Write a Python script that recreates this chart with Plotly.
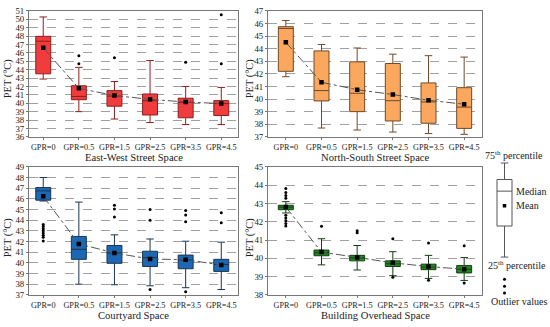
import plotly.graph_objects as go

categories = ["GPR=0", "GPR=0.5", "GPR=1.5", "GPR=2.5", "GPR=3.5", "GPR=4.5"]
xpos = [0, 1, 2, 3, 4, 5]

# East-West Street Space
ew_lower = [42.88, 39.0, 38.12, 37.7, 37.46, 37.46]
ew_q1 = [43.5, 40.42, 39.65, 38.6, 38.27, 38.54]
ew_median = [47.38, 40.81, 40.85, 40.3, 40.1, 39.96]
ew_q3 = [47.96, 42.08, 41.5, 41.1, 40.6, 40.31]
ew_upper = [50.27, 44.27, 42.58, 45.08, 42.0, 41.88]
ew_mean = [46.6, 41.77, 40.92, 40.46, 40.15, 39.96]
ew_out_x = [1, 1, 2, 4, 5, 5]
ew_out_y = [45.65, 44.69, 45.42, 44.88, 50.54, 44.69]

# North-South Street Space
ns_lower = [41.77, 37.7, 37.54, 37.38, 37.26, 37.2]
ns_q1 = [42.2, 39.85, 39.0, 38.26, 38.08, 37.67]
ns_median = [45.6, 40.67, 40.46, 39.87, 39.77, 39.36]
ns_q3 = [45.74, 43.82, 42.95, 42.82, 41.28, 40.9]
ns_upper = [46.23, 44.33, 44.05, 43.56, 43.44, 43.33]
ns_mean = [44.5, 41.33, 40.74, 40.36, 39.9, 39.59]

# Courtyard Space
cy_lower = [45.8, 38.0, 37.95, 37.85, 37.67, 37.5]
cy_q1 = [45.88, 40.33, 39.96, 39.66, 39.45, 39.2]
cy_median = [46.75, 41.27, 40.93, 40.5, 40.27, 39.85]
cy_q3 = [47.06, 42.48, 41.63, 41.09, 40.73, 40.33]
cy_upper = [48.0, 45.7, 42.63, 42.24, 42.03, 41.94]
cy_mean = [46.24, 41.78, 40.93, 40.36, 40.3, 39.8]
cy_out_x = [0, 0, 0, 0, 0, 0, 0, 0, 2, 2, 2, 3, 3, 3, 4, 4, 4, 4, 5, 5]
cy_out_y = [43.6, 43.4, 43.2, 43.0, 42.8, 42.6, 42.4, 42.05, 45.4, 45.05, 44.3,
            45.0, 44.0, 37.5, 44.9, 44.5, 43.85, 37.3, 44.7, 43.75]

# Building Overhead Space
bo_lower = [42.48, 39.64, 39.36, 39.05, 38.9, 38.79]
bo_q1 = [42.66, 40.14, 39.86, 39.55, 39.38, 39.2]
bo_median = [42.8, 40.3, 40.02, 39.7, 39.52, 39.4]
bo_q3 = [42.9, 40.45, 40.16, 39.86, 39.68, 39.6]
bo_upper = [43.1, 41.07, 40.7, 40.36, 40.16, 40.04]
bo_mean = [42.8, 40.34, 40.05, 39.75, 39.55, 39.4]
bo_out_x = [0, 0, 0, 0, 0, 0, 0, 0, 0, 1, 2, 2, 3, 3, 4, 4, 5, 5]
bo_out_y = [43.82, 43.6, 43.43, 43.29, 42.35, 42.21, 42.05, 41.9, 41.76,
            41.75, 41.5, 41.4, 41.07, 38.96, 40.84, 38.8, 40.68, 38.65]

panel_titles = ["East-West Street Space", "North-South Street Space",
                "Courtyard Space", "Building Overhead Space"]

FONT = "Liberation Serif"
W, H = 550, 327

def px_x(a, b):
    return [a / W, b / W]

def px_y(top, bottom):
    return [1 - bottom / H, 1 - top / H]

panels = [
    dict(lower=ew_lower, q1=ew_q1, med=ew_median, q3=ew_q3, upper=ew_upper, mean=ew_mean,
         ox=ew_out_x, oy=ew_out_y, fill="#F03C3C", line="#8E1E1E",
         xd=px_x(29, 238), yd=px_y(6, 136), xr=[-0.4, 5.47], yr=[36, 51]),
    dict(lower=ns_lower, q1=ns_q1, med=ns_median, q3=ns_q3, upper=ns_upper, mean=ns_mean,
         ox=[], oy=[], fill="#FBA75E", line="#6E4A2A",
         xd=px_x(268, 482), yd=px_y(6, 136), xr=[-0.5, 5.5], yr=[37, 47]),
    dict(lower=cy_lower, q1=cy_q1, med=cy_median, q3=cy_q3, upper=cy_upper, mean=cy_mean,
         ox=cy_out_x, oy=cy_out_y, fill="#1C68B4", line="#1A3550",
         xd=px_x(29, 238), yd=px_y(167, 299), xr=[-0.4, 5.47], yr=[37, 49]),
    dict(lower=bo_lower, q1=bo_q1, med=bo_median, q3=bo_q3, upper=bo_upper, mean=bo_mean,
         ox=bo_out_x, oy=bo_out_y, fill="#1F8A1F", line="#163D16",
         xd=px_x(268, 482), yd=px_y(167, 299), xr=[-0.5, 5.5], yr=[38, 45]),
]

fig = go.Figure()
layout = dict(
    width=W, height=H, margin=dict(l=0, r=0, t=0, b=0),
    paper_bgcolor="white", plot_bgcolor="white", showlegend=False,
    font=dict(family=FONT, color="#222222"),
)
annotations = []

for i, p in enumerate(panels):
    n = i + 1
    xa = "x" if n == 1 else f"x{n}"
    ya = "y" if n == 1 else f"y{n}"
    fig.add_trace(go.Box(
        x=xpos, q1=p["q1"], median=p["med"], q3=p["q3"],
        lowerfence=p["lower"], upperfence=p["upper"],
        fillcolor=p["fill"], line=dict(color=p["line"], width=1),
        width=0.42, whiskerwidth=0.5, boxpoints=False,
        xaxis=xa, yaxis=ya, hoverinfo="skip"))
    fig.add_trace(go.Scatter(
        x=xpos, y=p["mean"], mode="lines+markers",
        line=dict(color="#555555", width=1, dash="dashdot"),
        marker=dict(symbol="square", size=4.5, color="black"),
        xaxis=xa, yaxis=ya, hoverinfo="skip"))
    if p["ox"]:
        fig.add_trace(go.Scatter(
            x=p["ox"], y=p["oy"], mode="markers",
            marker=dict(symbol="circle", size=3, color="black"),
            xaxis=xa, yaxis=ya, hoverinfo="skip"))
    xkey = "xaxis" if n == 1 else f"xaxis{n}"
    ykey = "yaxis" if n == 1 else f"yaxis{n}"
    layout[xkey] = dict(
        domain=p["xd"], range=p["xr"], anchor=ya,
        tickmode="array", tickvals=xpos, ticktext=categories,
        tickfont=dict(size=8.2, family=FONT, color="#222222"),
        ticks="outside", ticklen=2, tickcolor="#777777",
        showline=True, linecolor="#777777", linewidth=1, mirror=True,
        showgrid=False, zeroline=False, fixedrange=True)
    layout[ykey] = dict(
        domain=p["yd"], range=p["yr"], anchor=xa, dtick=1,
        tickfont=dict(size=8.8, family=FONT, color="#222222"),
        ticks="outside", ticklen=2, tickcolor="#777777",
        showline=True, linecolor="#777777", linewidth=1, mirror=True,
        showgrid=True, gridcolor="#a0a0a0", gridwidth=0.8, griddash="dash",
        zeroline=False, fixedrange=True)
    cx = (p["xd"][0] + p["xd"][1]) / 2
    ty = 157.5 if i < 2 else 320.5
    annotations.append(dict(
        text=panel_titles[i], xref="paper", yref="paper",
        x=cx, y=1 - ty / H, xanchor="center", yanchor="middle",
        showarrow=False, font=dict(size=10.6, family=FONT, color="#222222")))
    yx = 7.5 if i % 2 == 0 else 249.5
    yc = 76 if i < 2 else 240
    annotations.append(dict(
        text="PET (°C)", xref="paper", yref="paper",
        x=yx / W, y=1 - yc / H, xanchor="center", yanchor="middle",
        textangle=-90, showarrow=False,
        font=dict(size=10.4, family=FONT, color="#222222")))

# Legend schematic (key)
key_x = [19.5]
key_lower, key_q1, key_median, key_q3, key_upper, key_mean = [0], [32], [68], [80], [97], [53]
key_out = [-23, -30, -37]
fig.add_trace(go.Box(
    x=key_x, q1=key_q1, median=key_median, q3=key_q3,
    lowerfence=key_lower, upperfence=key_upper,
    fillcolor="white", line=dict(color="#555555", width=1),
    width=15, whiskerwidth=0.5, boxpoints=False,
    xaxis="x5", yaxis="y5", hoverinfo="skip"))
fig.add_trace(go.Scatter(
    x=key_x, y=key_mean, mode="markers",
    marker=dict(symbol="square", size=3.5, color="black"),
    xaxis="x5", yaxis="y5", hoverinfo="skip"))
fig.add_trace(go.Scatter(
    x=key_x * 3, y=key_out, mode="markers",
    marker=dict(symbol="circle", size=3, color="black"),
    xaxis="x5", yaxis="y5", hoverinfo="skip"))
layout["xaxis5"] = dict(domain=px_x(485, 550), range=[0, 65], anchor="y5",
                        visible=False, fixedrange=True)
layout["yaxis5"] = dict(domain=px_y(150, 310), range=[-50, 110], anchor="x5",
                        visible=False, fixedrange=True)
key_texts = [
    ("75<sup>th</sup> percentile", 29, 105, "center"),
    ("Median", 28.5, 68, "left"),
    ("Mean", 28.5, 53, "left"),
    ("25<sup>th</sup> percentile", 32, -8, "center"),
    ("Outlier values", 34, -46, "center"),
]
for t, kx, ky, anc in key_texts:
    annotations.append(dict(
        text=t, xref="x5", yref="y5", x=kx, y=ky,
        xanchor=anc, yanchor="middle", showarrow=False,
        font=dict(size=10, family=FONT, color="#222222")))

layout["annotations"] = annotations
fig.update_layout(**layout)
fig.write_html(
    "out.html",
    config={"displayModeBar": False},
    post_script="document.body.style.margin='0';document.body.style.overflow='hidden';",
)
